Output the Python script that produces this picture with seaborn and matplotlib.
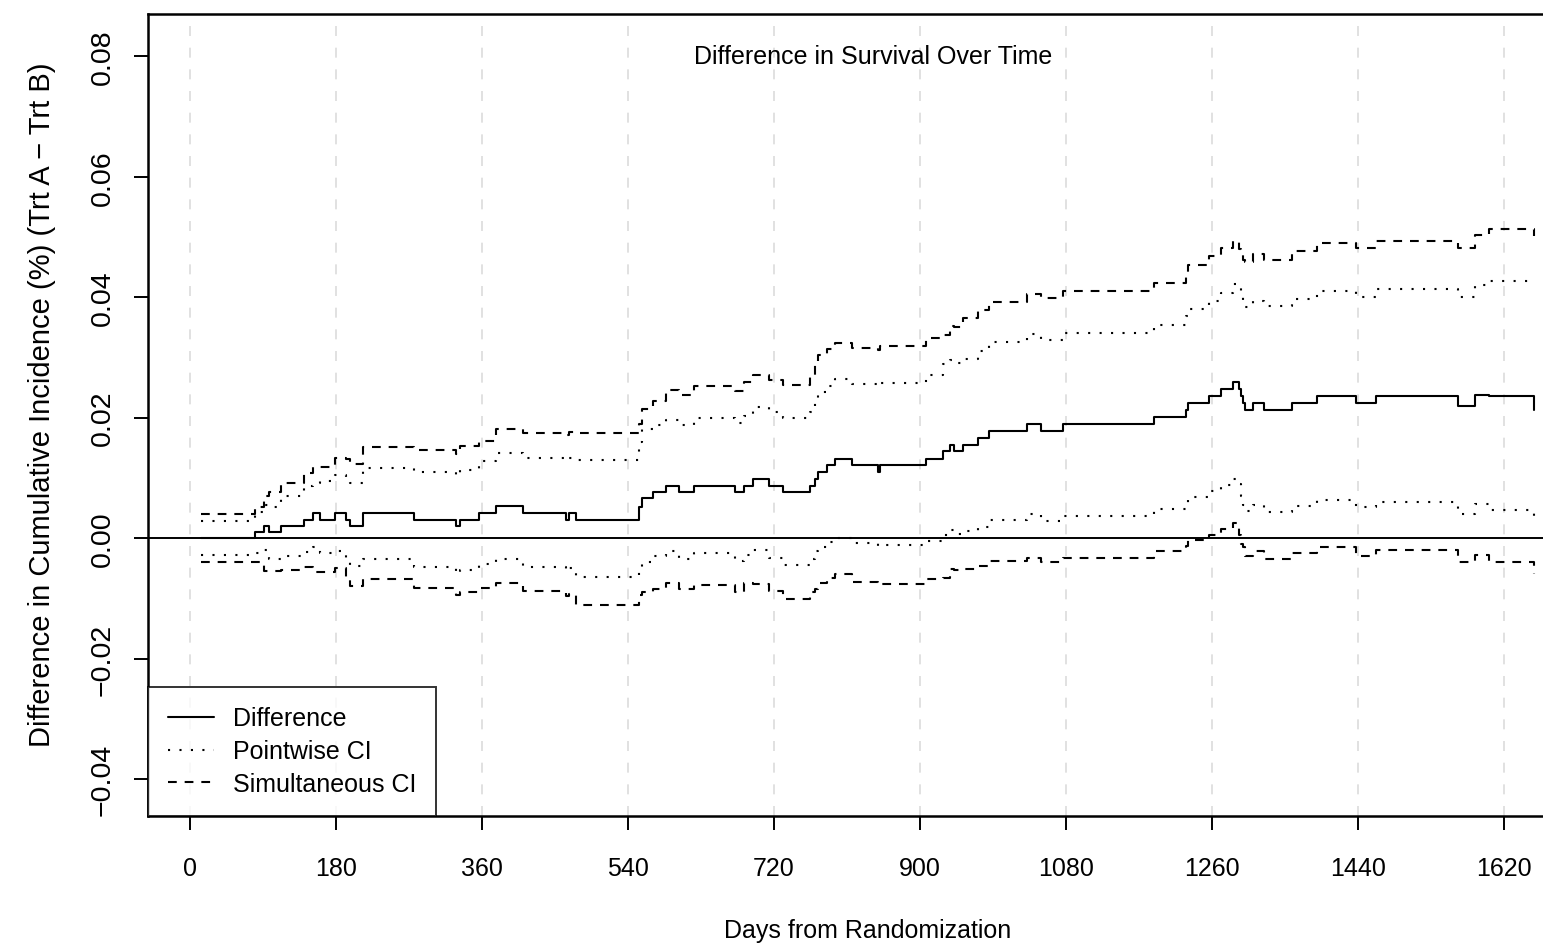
import numpy as np
import pandas as pd
import matplotlib
matplotlib.use("Agg")
import matplotlib.pyplot as plt
import seaborn as sns

# step change times (days from randomization)
days = [14, 80, 91, 97, 112, 141, 152, 161, 179, 192,
        197, 213, 276, 328, 333, 356, 378, 411, 464, 468,
        476, 554, 557, 571, 587, 603, 621, 672, 683, 694,
        714, 731, 765, 771, 775, 786, 796, 816, 849, 851,
        908, 929, 937, 942, 953, 972, 985, 1032, 1050, 1077,
        1189, 1228, 1231, 1257, 1272, 1286, 1293, 1296, 1298, 1301,
        1311, 1325, 1359, 1390, 1438, 1462, 1564, 1584, 1602, 1657]

difference = [0.0, 0.0010, 0.0020, 0.0010, 0.0020, 0.0031, 0.0042, 0.0031, 0.0042, 0.0031,
              0.0020, 0.0042, 0.0031, 0.0020, 0.0031, 0.0042, 0.0053, 0.0042, 0.0031, 0.0042,
              0.0031, 0.0052, 0.0066, 0.0076, 0.0087, 0.0076, 0.0087, 0.0076, 0.0087, 0.0098,
              0.0087, 0.0076, 0.0087, 0.0099, 0.0110, 0.0121, 0.0132, 0.0121, 0.0110, 0.0121,
              0.0132, 0.0144, 0.0155, 0.0144, 0.0155, 0.0166, 0.0178, 0.0189, 0.0178, 0.0189,
              0.0201, 0.0213, 0.0225, 0.0236, 0.0248, 0.0260, 0.0248, 0.0236, 0.0225, 0.0213,
              0.0225, 0.0213, 0.0225, 0.0236, 0.0225, 0.0236, 0.0220, 0.0237, 0.0236, 0.0213]

pointwise_upper = [0.0028, 0.0043, 0.0055, 0.0052, 0.0070, 0.0087, 0.0092, 0.0095, 0.0105, 0.0099,
                   0.0092, 0.0117, 0.0110, 0.0104, 0.0114, 0.0128, 0.0142, 0.0133, 0.0130, 0.0133,
                   0.0130, 0.0160, 0.0181, 0.0188, 0.0196, 0.0188, 0.0200, 0.0192, 0.0203, 0.0217,
                   0.0209, 0.0200, 0.0209, 0.0228, 0.0242, 0.0252, 0.0264, 0.0256, 0.0252, 0.0257,
                   0.0271, 0.0289, 0.0296, 0.0290, 0.0298, 0.0311, 0.0325, 0.0339, 0.0329, 0.0341,
                   0.0354, 0.0369, 0.0380, 0.0394, 0.0407, 0.0422, 0.0415, 0.0400, 0.0390, 0.0383,
                   0.0394, 0.0385, 0.0397, 0.0410, 0.0401, 0.0414, 0.0400, 0.0420, 0.0427, 0.0423]

pointwise_lower = [-0.0028, -0.0024, -0.0019, -0.0035, -0.0029, -0.0023, -0.0015, -0.0024, -0.0021, -0.0035,
                   -0.0046, -0.0034, -0.0047, -0.0060, -0.0053, -0.0043, -0.0035, -0.0048, -0.0054, -0.0050,
                   -0.0065, -0.0052, -0.0040, -0.0029, -0.0021, -0.0034, -0.0025, -0.0038, -0.0028, -0.0019,
                   -0.0032, -0.0045, -0.0035, -0.0021, -0.0014, -0.0006, 0.0001, -0.0008, -0.0013, -0.0011,
                   -0.0005, 0.0006, 0.0014, 0.0007, 0.0012, 0.0019, 0.0030, 0.0040, 0.0028, 0.0037,
                   0.0048, 0.0058, 0.0068, 0.0079, 0.0088, 0.0098, 0.0090, 0.0070, 0.0055, 0.0045,
                   0.0055, 0.0043, 0.0053, 0.0063, 0.0051, 0.0060, 0.0041, 0.0056, 0.0047, 0.0023]

simultaneous_upper = [0.0040, 0.0051, 0.0070, 0.0076, 0.0091, 0.0108, 0.0119, 0.0119, 0.0133, 0.0131,
                      0.0123, 0.0152, 0.0146, 0.0139, 0.0153, 0.0162, 0.0182, 0.0175, 0.0172, 0.0176,
                      0.0175, 0.0190, 0.0215, 0.0228, 0.0246, 0.0237, 0.0252, 0.0244, 0.0259, 0.0271,
                      0.0263, 0.0254, 0.0269, 0.0289, 0.0304, 0.0314, 0.0324, 0.0315, 0.0312, 0.0319,
                      0.0333, 0.0337, 0.0352, 0.0350, 0.0366, 0.0379, 0.0392, 0.0405, 0.0398, 0.0410,
                      0.0424, 0.0438, 0.0453, 0.0468, 0.0481, 0.0493, 0.0480, 0.0470, 0.0462, 0.0458,
                      0.0471, 0.0461, 0.0476, 0.0490, 0.0481, 0.0494, 0.0481, 0.0503, 0.0514, 0.0501]

simultaneous_lower = [-0.0039, -0.0039, -0.0054, -0.0054, -0.0052, -0.0047, -0.0056, -0.0056, -0.0050, -0.0068,
                      -0.0080, -0.0068, -0.0082, -0.0095, -0.0089, -0.0082, -0.0075, -0.0088, -0.0096, -0.0092,
                      -0.0111, -0.0095, -0.0090, -0.0084, -0.0074, -0.0085, -0.0077, -0.0089, -0.0075, -0.0076,
                      -0.0087, -0.0101, -0.0090, -0.0084, -0.0075, -0.0066, -0.0060, -0.0072, -0.0078, -0.0076,
                      -0.0068, -0.0066, -0.0051, -0.0052, -0.0051, -0.0046, -0.0037, -0.0032, -0.0040, -0.0032,
                      -0.0022, -0.0013, -0.0003, 0.0005, 0.0015, 0.0025, 0.0005, -0.0010, -0.0015, -0.0029,
                      -0.0021, -0.0035, -0.0025, -0.0015, -0.0029, -0.0019, -0.0040, -0.0028, -0.0039, -0.0060]

x_ticks = [0, 180, 360, 540, 720, 900, 1080, 1260, 1440, 1620]
y_ticks = [-0.04, -0.02, 0.00, 0.02, 0.04, 0.06, 0.08]
y_tick_labels = ['\u22120.04', '\u22120.02', '0.00', '0.02', '0.04', '0.06', '0.08']

sns.set_style("white")
plt.rcParams['font.family'] = ['Liberation Sans', 'DejaVu Sans']
plt.rcParams['text.color'] = 'black'
plt.rcParams['axes.labelcolor'] = 'black'
plt.rcParams['xtick.color'] = 'black'
plt.rcParams['ytick.color'] = 'black'

df = pd.DataFrame({'day': days, 'diff': difference,
                   'pu': pointwise_upper, 'pl': pointwise_lower,
                   'su': simultaneous_upper, 'sl': simultaneous_lower})

fs = 18
fs_rot = 20.5
fig = plt.figure(figsize=(15.43, 9.45), dpi=100)
ax = fig.add_axes([148 / 1543, 1 - 817 / 945, 1439 / 1543, 802 / 945])

# light dashed vertical grid
for t in x_ticks:
    ax.axvline(t, color='#dcdcdc', lw=1.2, dashes=(6, 7), zorder=0)
ax.axhline(0, color='black', lw=1.4, zorder=1)

lw = 1.5
dot = (1, 4.5)
dash = (4.2, 3.8)
for col in ['diff', 'pu', 'pl', 'su', 'sl']:
    sns.lineplot(data=df, x='day', y=col, ax=ax, color='black', lw=lw,
                 drawstyle='steps-post', estimator=None)

lines = ax.get_lines()[len(x_ticks) + 1:]
lines[1].set_dashes(dot)
lines[2].set_dashes(dot)
lines[3].set_dashes(dash)
lines[4].set_dashes(dash)

ax.set_xlim(-51.7, 1722.7)
ax.set_ylim(-0.0461, 0.0870)
ax.set_xticks(x_ticks)
ax.set_xticklabels([str(t) for t in x_ticks], fontsize=fs)
ax.set_yticks(y_ticks)
ax.set_yticklabels(y_tick_labels, fontsize=fs_rot, rotation=90, va='center')
ax.tick_params(axis='both', direction='out', length=10, width=1.4, color='black',
               bottom=True, left=True)
ax.tick_params(axis='x', pad=19)
ax.tick_params(axis='y', pad=13)
for s in ax.spines.values():
    s.set_color('black')
    s.set_linewidth(1.8)

ax.set_xlabel('Days from Randomization', fontsize=fs, labelpad=27)
ax.set_ylabel('Difference in Cumulative Incidence (%) (Trt A \u2212 Trt B)', fontsize=21, va='center')
ax.yaxis.set_label_coords(-0.0737, 0.514)
ax.text(842, 0.080, 'Difference in Survival Over Time', ha='center', va='center', fontsize=fs)

leg = ax.legend(handles=[lines[0], lines[1], lines[3]],
                labels=['Difference', 'Pointwise CI', 'Simultaneous CI'],
                loc='lower left', bbox_to_anchor=(0, 0), borderaxespad=0,
                frameon=True, fancybox=False, edgecolor='black', fontsize=fs,
                handlelength=1.85, handletextpad=0.75, labelspacing=0.35,
                borderpad=0.8)
leg.get_frame().set_linewidth(1.4)

fig.savefig('out.png', dpi=100)
